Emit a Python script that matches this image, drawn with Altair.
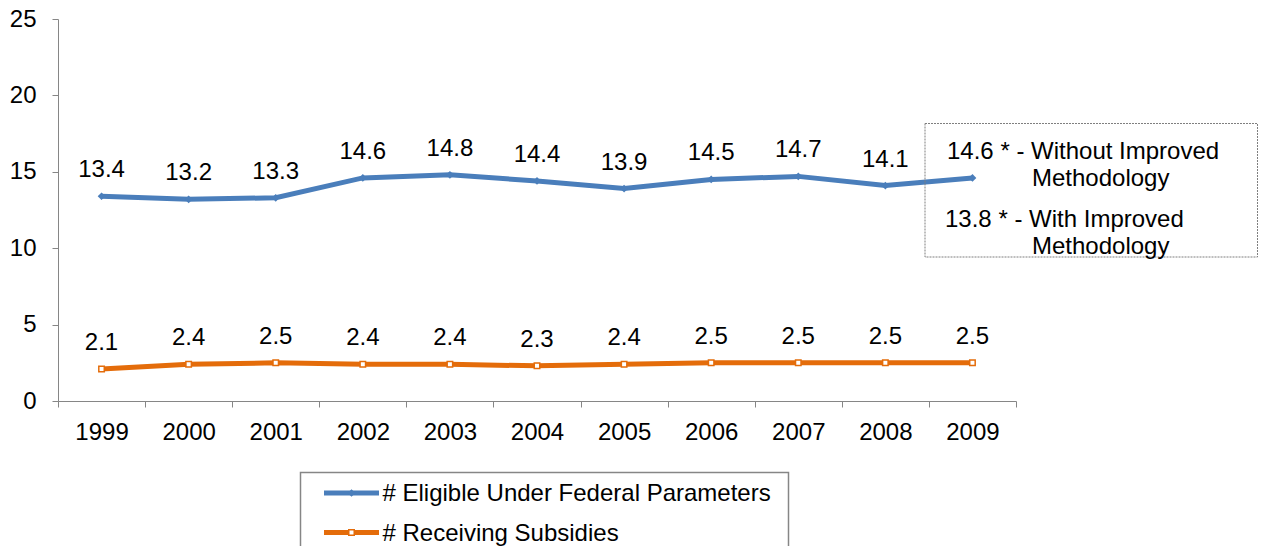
import altair as alt
import pandas as pd

# ---- data ----
years = [1999, 2000, 2001, 2002, 2003, 2004, 2005, 2006, 2007, 2008, 2009]
eligible = [13.4, 13.2, 13.3, 14.6, 14.8, 14.4, 13.9, 14.5, 14.7, 14.1, 14.6]
receiving = [2.1, 2.4, 2.5, 2.4, 2.4, 2.3, 2.4, 2.5, 2.5, 2.5, 2.5]
series_names = ["# Eligible Under Federal Parameters", "# Receiving Subsidies"]
series_colors = ["#4A7EBB", "#E46C0A"]
y_ticks = [0, 5, 10, 15, 20, 25]
note_lines = ["14.6 * - Without Improved", "Methodology",
              "13.8 * - With Improved", "Methodology"]

FONT = "Liberation Sans"
FS = 24
AXIS_GREY = "#868686"
TOP = 11  # plot origin offset (page y = 8 + TOP)

rows = []
for i, yr in enumerate(years):
    rows.append({"year": str(yr), "value": eligible[i], "series": series_names[0],
                 "label": f"{eligible[i]:.1f}" if i < len(years) - 1 else ""})
    rows.append({"year": str(yr), "value": receiving[i], "series": series_names[1],
                 "label": f"{receiving[i]:.1f}"})
df = pd.DataFrame(rows)

x_enc = alt.X(
    "year:O",
    bandPosition=0.5,
    scale=alt.Scale(type="band", paddingInner=0, paddingOuter=0),
    axis=alt.Axis(title=None, labelAngle=0, tickBand="extent", tickSize=6,
                  tickColor=AXIS_GREY, domainColor=AXIS_GREY, labelFont=FONT,
                  labelFontSize=FS, labelColor="black", labelPadding=13, grid=False),
)
y_enc = alt.Y(
    "value:Q",
    scale=alt.Scale(domain=[0, 25], nice=False),
    axis=alt.Axis(title=None, values=y_ticks, tickSize=6, tickColor=AXIS_GREY,
                  domainColor=AXIS_GREY, labelFont=FONT, labelFontSize=FS,
                  labelColor="black", labelPadding=16, grid=False),
)
color_enc = alt.Color("series:N", scale=alt.Scale(domain=series_names, range=series_colors),
                      legend=None)

base = alt.Chart(df)
lines = base.mark_line(strokeWidth=5).encode(x=x_enc, y=y_enc, color=color_enc)
blue_pts = base.transform_filter(alt.datum.series == series_names[0]).mark_point(
    shape="diamond", filled=True, size=60, color=series_colors[0], opacity=1
).encode(x=x_enc, y=y_enc)
orange_pts = base.transform_filter(alt.datum.series == series_names[1]).mark_point(
    shape="square", filled=True, size=30, fill="white", stroke=series_colors[1],
    strokeWidth=1.5, opacity=1
).encode(x=x_enc, y=y_enc)
labels = base.mark_text(dy=-19, baseline="alphabetic", font=FONT, fontSize=FS,
                        color="black").encode(x=x_enc, y=y_enc, text="label:N")

dummy = pd.DataFrame({"a": [0]})


def py(page_y):
    """convert a page y position to plot coordinates"""
    return page_y - 8 - TOP


# annotation box (dotted) and its text
note_box = alt.Chart(dummy).mark_rect(fillOpacity=0, stroke="#7f7f7f", strokeWidth=1,
                                      strokeDash=[2, 1]).encode(
    x=alt.value(867), x2=alt.value(1199.5), y=alt.value(py(123.5)), y2=alt.value(py(257)))
note_pos = [(889, py(158.5)), (974, py(185.5)), (887, py(226.5)), (974, py(253.5))]
note_texts = [
    alt.Chart(dummy).mark_text(align="left", baseline="alphabetic", font=FONT,
                               fontSize=FS, color="black").encode(
        x=alt.value(px), y=alt.value(pyy), text=alt.value(t))
    for t, (px, pyy) in zip(note_lines, note_pos)
]

# legend box
legend_box = alt.Chart(dummy).mark_rect(fillOpacity=0, stroke=AXIS_GREY, strokeWidth=1.5).encode(
    x=alt.value(242.5), x2=alt.value(730.5), y=alt.value(py(472.5)), y2=alt.value(600))
legend_layers = []
row_centers = [493.0, 532.5]
for i, (name, col) in enumerate(zip(series_names, series_colors)):
    cy = py(row_centers[i])
    legend_layers.append(alt.Chart(dummy).mark_rule(strokeWidth=5, color=col).encode(
        x=alt.value(266), x2=alt.value(321), y=alt.value(cy)))
    if i == 0:
        legend_layers.append(alt.Chart(dummy).mark_point(
            shape="diamond", filled=True, size=60, color=col, opacity=1).encode(
            x=alt.value(293.5), y=alt.value(cy)))
    else:
        legend_layers.append(alt.Chart(dummy).mark_point(
            shape="square", filled=True, size=30, fill="white", stroke=col,
            strokeWidth=1.5, opacity=1).encode(x=alt.value(293.5), y=alt.value(cy)))
    legend_layers.append(alt.Chart(dummy).mark_text(
        align="left", baseline="alphabetic", font=FONT, fontSize=FS, color="black").encode(
        x=alt.value(324.5), y=alt.value(cy + 8.3), text=alt.value(name)))

chart = alt.layer(
    lines, blue_pts, orange_pts, labels, note_box, *note_texts, legend_box, *legend_layers
).properties(
    width=958, height=382,
    autosize=alt.AutoSizeParams(type="none"),
    padding={"left": 50, "top": TOP, "right": 242, "bottom": 538 - TOP - 382},
    background="white",
).configure_view(stroke=None)

chart.save("out.html", embed_options={"renderer": "svg", "actions": False})
